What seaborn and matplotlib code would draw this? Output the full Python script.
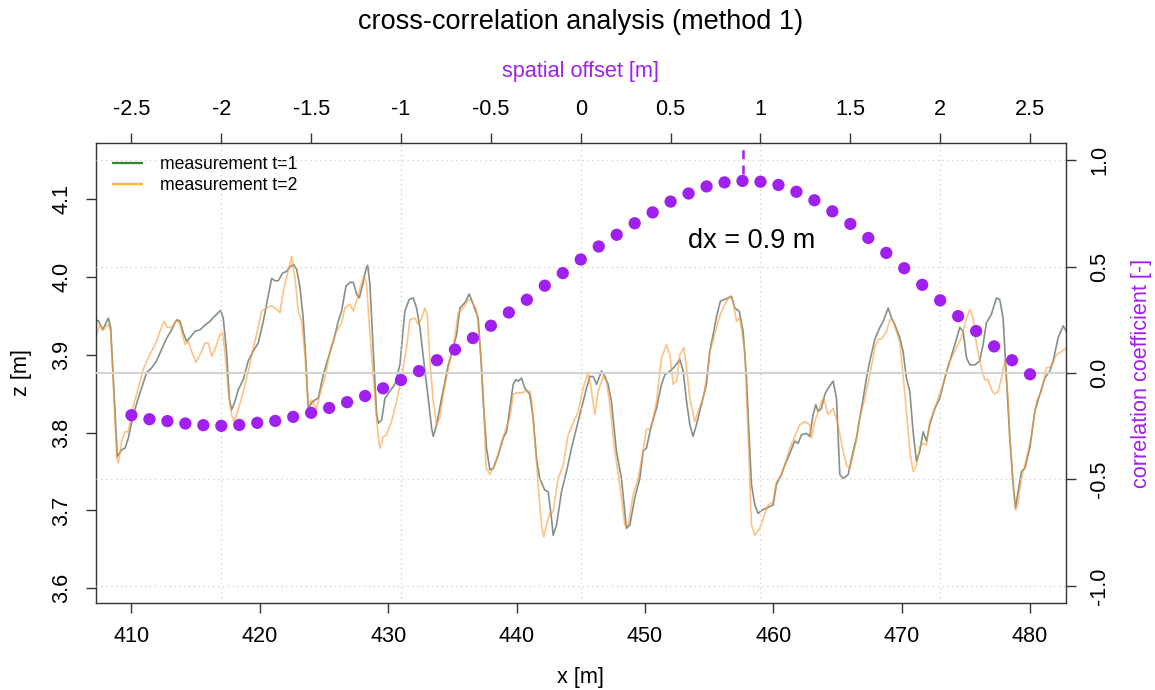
import numpy as np
import seaborn as sns
import matplotlib.pyplot as plt
from matplotlib.lines import Line2D

# profile t=1 (x [m], z [m])
t1_x = [407.24, 407.42, 407.76, 408.20, 408.38, 408.90, 409.24, 409.50, 409.76, 410.14,
        410.53, 411.18, 411.57, 411.96, 412.35, 412.74, 413.13, 413.39, 413.57, 413.78,
        414.04, 414.30, 414.56, 414.95, 415.34, 415.73, 416.12, 416.51, 416.95, 417.15,
        417.41, 417.62, 417.80, 418.06, 418.32, 418.71, 419.10, 419.49, 419.88, 420.27,
        420.53, 420.92, 421.18, 421.44, 421.78, 422.09, 422.35, 422.61, 422.87, 423.13,
        423.38, 423.59, 423.77, 424.03, 424.29, 424.55, 424.94, 425.33, 425.72, 426.11,
        426.37, 426.71, 427.02, 427.28, 427.54, 427.75, 428.01, 428.27, 428.40, 428.58,
        428.84, 429.10, 429.23, 429.49, 429.75, 430.13, 430.52, 430.91, 431.30, 431.64,
        431.95, 432.21, 432.47, 432.86, 433.12, 433.38, 433.51, 433.77, 434.16, 434.68,
        435.07, 435.33, 435.59, 435.98, 436.31, 436.62, 437.01, 437.27, 437.40, 437.66,
        437.92, 438.18, 438.57, 438.96, 439.22, 439.48, 439.74, 439.94, 440.13, 440.39,
        440.64, 441.03, 441.29, 441.55, 441.81, 442.20, 442.46, 442.72, 442.85, 443.11,
        443.50, 443.89, 444.28, 444.67, 445.19, 445.45, 445.71, 445.97, 446.23, 446.62,
        446.88, 447.13, 447.39, 447.78, 448.17, 448.56, 448.82, 449.21, 449.60, 449.86,
        450.12, 450.51, 450.90, 451.29, 451.55, 451.94, 452.33, 452.72, 452.98, 453.24,
        453.50, 453.75, 454.01, 454.40, 454.79, 455.05, 455.31, 455.62, 455.88, 456.22,
        456.48, 456.74, 457.00, 457.34, 457.65, 457.91, 458.12, 458.30, 458.56, 458.82,
        459.08, 459.47, 459.99, 460.24, 460.63, 460.89, 461.28, 461.67, 461.93, 462.19,
        462.58, 462.84, 463.10, 463.31, 463.49, 463.75, 464.01, 464.27, 464.66, 464.92,
        465.18, 465.44, 465.83, 466.22, 466.48, 466.74, 467.00, 467.26, 467.52, 467.91,
        468.30, 468.56, 468.95, 469.21, 469.46, 469.85, 470.11, 470.37, 470.63, 470.89,
        471.15, 471.41, 471.67, 471.93, 472.19, 472.58, 472.97, 473.36, 473.75, 474.14,
        474.53, 474.79, 475.05, 475.31, 475.70, 476.08, 476.34, 476.60, 476.99, 477.38,
        477.64, 477.90, 478.16, 478.42, 478.68, 478.86, 479.07, 479.33, 479.59, 479.98,
        480.37, 480.76, 481.15, 481.54, 481.80, 482.19, 482.58, 482.96]
t1_z = [3.943, 3.944, 3.932, 3.947, 3.935, 3.769, 3.778, 3.780, 3.793, 3.823,
        3.844, 3.877, 3.883, 3.892, 3.907, 3.921, 3.932, 3.941, 3.945, 3.943,
        3.928, 3.917, 3.922, 3.930, 3.932, 3.938, 3.943, 3.950, 3.957, 3.947,
        3.904, 3.844, 3.829, 3.840, 3.855, 3.868, 3.892, 3.905, 3.915, 3.943,
        3.965, 3.998, 3.995, 3.995, 4.005, 4.007, 4.013, 4.016, 4.010, 3.986,
        3.947, 3.892, 3.831, 3.838, 3.842, 3.844, 3.874, 3.896, 3.917, 3.943,
        3.956, 3.988, 3.993, 3.993, 3.978, 3.973, 3.990, 4.010, 4.015, 3.990,
        3.904, 3.823, 3.812, 3.816, 3.844, 3.853, 3.862, 3.887, 3.956, 3.971,
        3.973, 3.960, 3.935, 3.879, 3.844, 3.806, 3.795, 3.810, 3.844, 3.887,
        3.909, 3.926, 3.960, 3.967, 3.978, 3.965, 3.947, 3.883, 3.840, 3.780,
        3.752, 3.754, 3.771, 3.793, 3.801, 3.831, 3.862, 3.868, 3.866, 3.870,
        3.857, 3.849, 3.819, 3.767, 3.741, 3.726, 3.724, 3.690, 3.668, 3.681,
        3.724, 3.750, 3.780, 3.806, 3.840, 3.857, 3.872, 3.872, 3.862, 3.879,
        3.872, 3.862, 3.840, 3.776, 3.741, 3.677, 3.681, 3.716, 3.741, 3.776,
        3.780, 3.810, 3.831, 3.862, 3.874, 3.879, 3.885, 3.894, 3.879, 3.840,
        3.810, 3.795, 3.810, 3.836, 3.862, 3.904, 3.926, 3.952, 3.969, 3.971,
        3.973, 3.975, 3.960, 3.956, 3.930, 3.870, 3.793, 3.733, 3.707, 3.696,
        3.700, 3.703, 3.707, 3.733, 3.746, 3.758, 3.773, 3.789, 3.786, 3.797,
        3.799, 3.795, 3.823, 3.836, 3.827, 3.831, 3.849, 3.857, 3.866, 3.844,
        3.746, 3.741, 3.746, 3.776, 3.793, 3.819, 3.844, 3.870, 3.892, 3.920,
        3.935, 3.943, 3.960, 3.947, 3.939, 3.922, 3.904, 3.870, 3.853, 3.801,
        3.763, 3.776, 3.801, 3.789, 3.810, 3.831, 3.844, 3.870, 3.892, 3.913,
        3.935, 3.930, 3.896, 3.887, 3.887, 3.892, 3.913, 3.941, 3.952, 3.973,
        3.971, 3.947, 3.870, 3.793, 3.733, 3.703, 3.724, 3.750, 3.754, 3.780,
        3.827, 3.849, 3.870, 3.879, 3.892, 3.922, 3.937, 3.926]

# profile t=2
t2_x = [407.24, 407.55, 407.81, 408.20, 408.38, 408.59, 408.85, 408.98, 409.24, 409.50,
        409.76, 410.02, 410.40, 410.92, 411.31, 411.70, 411.96, 412.22, 412.53, 412.79,
        413.13, 413.52, 413.78, 414.17, 414.43, 414.69, 415.03, 415.34, 415.73, 415.99,
        416.25, 416.51, 416.89, 417.10, 417.28, 417.54, 417.80, 417.98, 418.19, 418.58,
        418.97, 419.23, 419.49, 419.88, 420.14, 420.53, 420.92, 421.31, 421.57, 421.83,
        422.22, 422.48, 422.74, 423.00, 423.26, 423.51, 423.77, 424.03, 424.42, 424.68,
        425.07, 425.46, 425.98, 426.37, 426.63, 427.02, 427.28, 427.54, 427.85, 428.11,
        428.32, 428.58, 428.97, 429.23, 429.36, 429.62, 429.87, 430.26, 430.65, 431.04,
        431.43, 431.69, 432.08, 432.34, 432.60, 432.86, 433.04, 433.25, 433.51, 433.77,
        434.03, 434.29, 434.68, 435.07, 435.46, 435.72, 435.98, 436.24, 436.49, 436.88,
        437.14, 437.40, 437.62, 437.92, 438.31, 438.70, 439.09, 439.48, 439.74, 440.00,
        440.39, 440.77, 441.03, 441.16, 441.42, 441.68, 441.94, 442.12, 442.33, 442.59,
        442.85, 443.24, 443.63, 444.02, 444.41, 444.80, 445.19, 445.58, 445.84, 446.10,
        446.36, 446.75, 447.00, 447.26, 447.65, 448.04, 448.43, 448.69, 449.08, 449.47,
        449.86, 450.12, 450.51, 450.90, 451.29, 451.68, 451.94, 452.20, 452.46, 452.72,
        453.03, 453.24, 453.50, 453.88, 454.14, 454.53, 454.79, 455.05, 455.44, 455.83,
        456.22, 456.61, 456.87, 457.13, 457.39, 457.78, 458.04, 458.30, 458.56, 458.95,
        459.21, 459.60, 459.99, 460.24, 460.63, 460.89, 461.28, 461.67, 462.06, 462.45,
        462.84, 462.97, 463.23, 463.49, 463.75, 463.93, 464.27, 464.66, 465.05, 465.44,
        465.70, 465.96, 466.35, 466.74, 467.13, 467.52, 467.91, 468.17, 468.43, 468.82,
        469.08, 469.34, 469.59, 469.85, 470.11, 470.37, 470.63, 470.89, 471.15, 471.41,
        471.67, 471.93, 472.19, 472.58, 472.84, 473.23, 473.62, 473.88, 474.27, 474.66,
        475.05, 475.31, 475.57, 475.82, 476.21, 476.47, 476.73, 476.99, 477.25, 477.51,
        477.77, 478.03, 478.29, 478.42, 478.68, 478.89, 479.07, 479.33, 479.72, 480.11,
        480.50, 480.89, 481.28, 481.67, 482.06, 482.45, 482.84]
t2_z = [3.924, 3.939, 3.932, 3.939, 3.930, 3.862, 3.767, 3.761, 3.789, 3.801,
        3.801, 3.827, 3.849, 3.881, 3.896, 3.909, 3.917, 3.930, 3.943, 3.935,
        3.935, 3.945, 3.939, 3.913, 3.917, 3.904, 3.890, 3.900, 3.915, 3.915,
        3.898, 3.907, 3.926, 3.928, 3.904, 3.853, 3.823, 3.814, 3.823, 3.844,
        3.870, 3.887, 3.909, 3.935, 3.956, 3.960, 3.963, 3.958, 3.954, 3.982,
        4.008, 4.026, 3.999, 3.956, 3.943, 3.900, 3.836, 3.842, 3.831, 3.849,
        3.870, 3.904, 3.930, 3.941, 3.960, 3.965, 3.956, 3.969, 3.988, 4.001,
        3.990, 3.926, 3.844, 3.793, 3.780, 3.795, 3.797, 3.814, 3.840, 3.870,
        3.909, 3.945, 3.947, 3.939, 3.947, 3.960, 3.952, 3.892, 3.840, 3.810,
        3.819, 3.849, 3.883, 3.909, 3.954, 3.958, 3.963, 3.971, 3.969, 3.958,
        3.917, 3.853, 3.755, 3.746, 3.758, 3.780, 3.801, 3.819, 3.849, 3.851,
        3.851, 3.853, 3.853, 3.844, 3.793, 3.733, 3.681, 3.666, 3.681, 3.696,
        3.698, 3.741, 3.758, 3.797, 3.812, 3.827, 3.857, 3.877, 3.853, 3.823,
        3.853, 3.872, 3.866, 3.836, 3.776, 3.733, 3.681, 3.681, 3.720, 3.741,
        3.776, 3.804, 3.806, 3.840, 3.896, 3.913, 3.900, 3.862, 3.866, 3.900,
        3.909, 3.883, 3.844, 3.814, 3.827, 3.844, 3.870, 3.904, 3.926, 3.950,
        3.965, 3.975, 3.969, 3.943, 3.947, 3.904, 3.797, 3.681, 3.668, 3.677,
        3.690, 3.707, 3.711, 3.737, 3.746, 3.758, 3.780, 3.795, 3.810, 3.814,
        3.810, 3.793, 3.814, 3.827, 3.840, 3.844, 3.823, 3.831, 3.810, 3.776,
        3.758, 3.754, 3.780, 3.819, 3.844, 3.874, 3.909, 3.920, 3.920, 3.930,
        3.945, 3.943, 3.930, 3.917, 3.874, 3.827, 3.776, 3.750, 3.758, 3.782,
        3.786, 3.784, 3.814, 3.831, 3.844, 3.862, 3.887, 3.896, 3.909, 3.922,
        3.947, 3.958, 3.947, 3.913, 3.883, 3.868, 3.868, 3.855, 3.849, 3.853,
        3.870, 3.892, 3.844, 3.797, 3.737, 3.700, 3.711, 3.741, 3.767, 3.797,
        3.840, 3.853, 3.883, 3.885, 3.900, 3.904, 3.909]

# cross-correlation vs spatial offset (lags every 0.1 m)
offsets = np.round(np.arange(-25, 26) / 10.0, 1)
corr = [-0.198, -0.217, -0.226, -0.237, -0.245, -0.248, -0.244, -0.234, -0.225, -0.206,
        -0.187, -0.164, -0.137, -0.108, -0.072, -0.033, 0.009, 0.060, 0.110, 0.164,
        0.222, 0.284, 0.344, 0.410, 0.469, 0.533, 0.594, 0.649, 0.703, 0.754,
        0.805, 0.843, 0.876, 0.895, 0.902, 0.898, 0.883, 0.851, 0.811, 0.759,
        0.700, 0.634, 0.564, 0.492, 0.414, 0.341, 0.267, 0.197, 0.125, 0.060,
        -0.006]

x_ticks = [410, 420, 430, 440, 450, 460, 470, 480]
z_ticks = [3.6, 3.7, 3.8, 3.9, 4.0, 4.1]
off_ticks = [-2.5, -2, -1.5, -1, -0.5, 0, 0.5, 1, 1.5, 2, 2.5]
r_ticks = [-1.0, -0.5, 0.0, 0.5, 1.0]

PURPLE = "#A020F0"
W, H = 1155, 690

sns.set_style("ticks")
plt.rcParams['font.family'] = ['Liberation Sans', 'DejaVu Sans']
plt.rcParams['text.color'] = 'black'

fig = plt.figure(figsize=(W / 100, H / 100), dpi=100)
rect = [95.5 / W, 1 - 603 / H, 970.5 / W, 460 / H]
ax = fig.add_axes(rect)
ax2 = fig.add_axes(rect, frameon=False, label="corr")
ax2.patch.set_visible(False)

# profiles
sns.lineplot(x=t1_x, y=t1_z, ax=ax, color="#76867b", lw=1.2, alpha=0.9,
             estimator=None, sort=False)
sns.lineplot(x=t2_x, y=t2_z, ax=ax, color="#ff9a33", lw=1.2, alpha=0.6,
             estimator=None, sort=False)

ax.set_xlim(407.2, 482.8)
ax.set_ylim(3.581, 4.172)
ax.set_xticks(x_ticks)
ax.set_xticklabels([str(v) for v in x_ticks])
ax.set_yticks(z_ticks)
ax.set_yticklabels([f"{v:.1f}" for v in z_ticks], rotation=90, va="center")
ax.tick_params(direction="out", length=7.5, width=1, labelsize=15.6, pad=9,
               colors="#333333", labelcolor="black")
for s in ax.spines.values():
    s.set_color("#333333")
    s.set_linewidth(1)
ax.set_xlabel("")
ax.set_ylabel("")

# legend handles: plain solid strokes
handles = [Line2D([0, 1], [0, 0], color="#2a8a2a", lw=1.6, ls="-",
                  solid_capstyle="butt", antialiased=False),
           Line2D([0, 1], [0, 0], color="#ffb640", lw=1.6, ls="-",
                  solid_capstyle="butt", antialiased=False)]
leg = ax.legend(handles, ["measurement t=1", "measurement t=2"], loc="upper left",
                bbox_to_anchor=(0.0165, 0.972), frameon=False, fontsize=12.7,
                handlelength=1.8, handletextpad=0.95, labelspacing=0.25,
                borderpad=0, borderaxespad=0)
for t in leg.get_texts():
    t.set_color("black")

# correlation axes (top / right)
ax2.set_xlim(-2.7, 2.7)
ax2.set_ylim(-1.08, 1.08)
ax2.xaxis.set_ticks_position("top")
ax2.yaxis.set_ticks_position("right")
ax2.set_xticks(off_ticks)
ax2.set_xticklabels([f"{v:g}" for v in off_ticks])
ax2.set_yticks(r_ticks)
ax2.set_yticklabels([f"{v:.1f}" for v in r_ticks], rotation=90, va="center")
ax2.tick_params(direction="out", length=7.5, width=1, labelsize=15.6, pad=9,
                colors="#333333", labelcolor="black")

for v in [-2, -1, 0, 1, 2]:
    ax2.axvline(v, color="#d4d4d4", lw=1, ls=(0, (1, 2.5)), zorder=0)
for r in [-1.0, -0.5, 0.5, 1.0]:
    ax2.axhline(r, color="#d4d4d4", lw=1, ls=(0, (1, 2.5)), zorder=0)
ax2.axhline(0, color="#d3d3d3", lw=1.5, zorder=1)

sns.scatterplot(x=offsets, y=corr, ax=ax2, s=78, color=PURPLE,
                edgecolor="none", linewidth=0, zorder=3, legend=False)

best = offsets[int(np.argmax(corr))]
ax2.vlines(best, 0.935, 1.06, colors=PURPLE, lw=1.8, linestyles=(0, (3.6, 2.5)))
ax2.text(best + 0.05, 0.62, f"dx = {best:g} m", ha="center", va="center", fontsize=19.5)
ax2.set_xlabel("")
ax2.set_ylabel("")

# labels and title
cx = (95.5 + 1066) / 2 / W
fig.text(cx, 1 - 22 / H, "cross-correlation analysis (method 1)", ha="center",
         va="center", fontsize=19.5)
fig.text(cx, 1 - 72 / H, "spatial offset [m]", ha="center", va="center",
         fontsize=15.6, color=PURPLE)
fig.text(cx, 1 - 678 / H, "x [m]", ha="center", va="center", fontsize=15.6)
fig.text(22 / W, 1 - 373 / H, "z [m]", ha="center", va="center", rotation=90,
         fontsize=15.6)
fig.text(1142 / W, 1 - 373 / H, "correlation coefficient [-]", ha="center",
         va="center", rotation=90, fontsize=15.6, color=PURPLE)

fig.savefig("out.png", dpi=100)
